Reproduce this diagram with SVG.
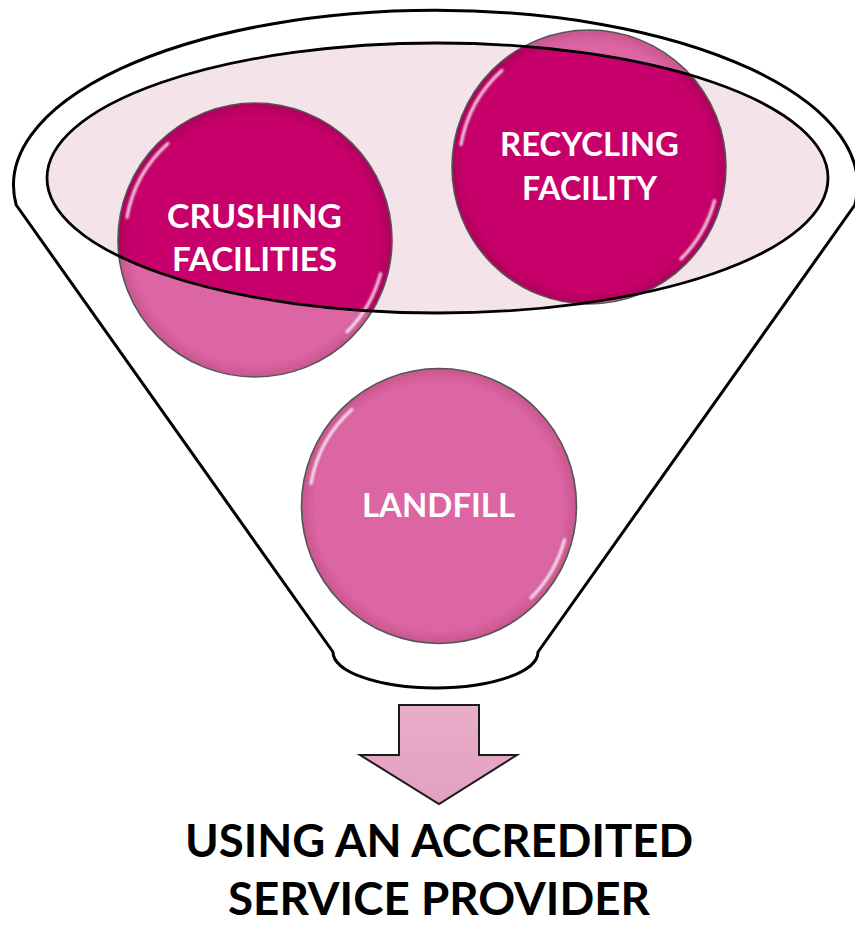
<svg xmlns="http://www.w3.org/2000/svg" width="855" height="925" viewBox="0 0 855 925">
  <defs>
    <style>
      .funnel{fill:#ffffff;stroke:#000000;stroke-width:3;stroke-linejoin:round}
      .inner-fill{fill:#F5E3EA}
      .inner-line{fill:none;stroke:#000000;stroke-width:2.8}
      .ring{fill:none;stroke:#555555;stroke-width:1.6}
      .light{fill:url(#lightG)}
      .dark{fill:url(#darkG)}
      .hl{fill:none;stroke:#ffffff;stroke-width:3;stroke-linecap:round;opacity:0.85}
      .lbl{font-family:Lato,"Open Sans","Liberation Sans",sans-serif;font-weight:bold;font-size:32px;fill:#ffffff;text-anchor:middle}
      .title{font-family:Lato,"Open Sans","Liberation Sans",sans-serif;font-weight:bold;font-size:45px;fill:#000000;text-anchor:middle}
      .arrow{fill:url(#arrowG);stroke:#1a1a1a;stroke-width:2;stroke-linejoin:miter}
      .ahl{fill:none;stroke:#ffffff;stroke-width:3;stroke-linecap:round;opacity:0.9}
    </style>
    <clipPath id="innerClip">
      <ellipse cx="437.5" cy="178" rx="390.5" ry="135"/>
    </clipPath>
    <radialGradient id="lightG" cx="50%" cy="50%" r="50%">
      <stop offset="0" stop-color="#DC65A3"/>
      <stop offset="0.9" stop-color="#DC65A3"/>
      <stop offset="1" stop-color="#C9568F"/>
    </radialGradient>
    <radialGradient id="darkG" cx="50%" cy="50%" r="50%">
      <stop offset="0" stop-color="#C8006B"/>
      <stop offset="0.9" stop-color="#C8006B"/>
      <stop offset="1" stop-color="#B0005C"/>
    </radialGradient>
    <linearGradient id="arrowG" x1="0" y1="0" x2="0" y2="1">
      <stop offset="0" stop-color="#E8ADC9"/>
      <stop offset="1" stop-color="#E3A0C0"/>
    </linearGradient>
    <filter id="soft" x="-20%" y="-20%" width="140%" height="140%">
      <feGaussianBlur stdDeviation="0.8"/>
    </filter>
  </defs>

  <g id="funnel">
    <path class="funnel" d="M16.2,205 A422,175 0 1 1 854.8,205 L538,652 A102.5,36 0 0 1 333,652 Z"/>
    <ellipse class="inner-fill" cx="437.5" cy="178" rx="390.5" ry="135"/>
  </g>

  <g id="crushing">
    <circle class="light" cx="255" cy="240" r="137"/>
    <circle class="dark" cx="255" cy="240" r="137" clip-path="url(#innerClip)"/>
    <circle class="ring" cx="255" cy="240" r="137"/>
    <path class="hl" filter="url(#soft)" d="M168,143.4 A130,130 0 0 0 127,217.4"/>
    <path class="hl" filter="url(#soft)" d="M380.6,273.6 A130,130 0 0 1 346.9,331.9"/>
    <text class="lbl" x="254.5" y="228" textLength="175" lengthAdjust="spacingAndGlyphs">CRUSHING</text>
    <text class="lbl" x="254.5" y="271" textLength="165" lengthAdjust="spacingAndGlyphs">FACILITIES</text>
  </g>

  <g id="recycling">
    <circle class="light" cx="589" cy="167" r="137"/>
    <circle class="dark" cx="589" cy="167" r="137" clip-path="url(#innerClip)"/>
    <circle class="ring" cx="589" cy="167" r="137"/>
    <path class="hl" filter="url(#soft)" d="M502,70.4 A130,130 0 0 0 461,144.4"/>
    <path class="hl" filter="url(#soft)" d="M714.6,200.6 A130,130 0 0 1 680.9,258.9"/>
    <text class="lbl" x="589.5" y="156" textLength="179" lengthAdjust="spacingAndGlyphs">RECYCLING</text>
    <text class="lbl" x="589.5" y="200" textLength="135" lengthAdjust="spacingAndGlyphs">FACILITY</text>
  </g>

  <g id="inner-rim">
    <ellipse class="inner-line" cx="437.5" cy="178" rx="390.5" ry="135"/>
  </g>

  <g id="landfill">
    <circle class="light" cx="439" cy="506" r="137.5"/>
    <circle class="ring" cx="439" cy="506" r="137.5"/>
    <path class="hl" filter="url(#soft)" d="M352,409.4 A130,130 0 0 0 311,483.4"/>
    <path class="hl" filter="url(#soft)" d="M564.6,539.6 A130,130 0 0 1 530.9,597.9"/>
    <text class="lbl" x="438.5" y="517" textLength="153" lengthAdjust="spacingAndGlyphs">LANDFILL</text>
  </g>

  <g id="connectors">
    <path class="arrow" d="M399,705 H479 V755 H517 L439,804 L360,755 H399 Z"/>
    <path class="ahl" filter="url(#soft)" d="M412,718 V766"/>
    <path class="ahl" filter="url(#soft)" d="M467,718 V766"/>
  </g>

  <g id="result">
    <text class="title" x="439" y="857" textLength="508" lengthAdjust="spacingAndGlyphs">USING AN ACCREDITED</text>
    <text class="title" x="439" y="915" textLength="422" lengthAdjust="spacingAndGlyphs">SERVICE PROVIDER</text>
  </g>
</svg>
